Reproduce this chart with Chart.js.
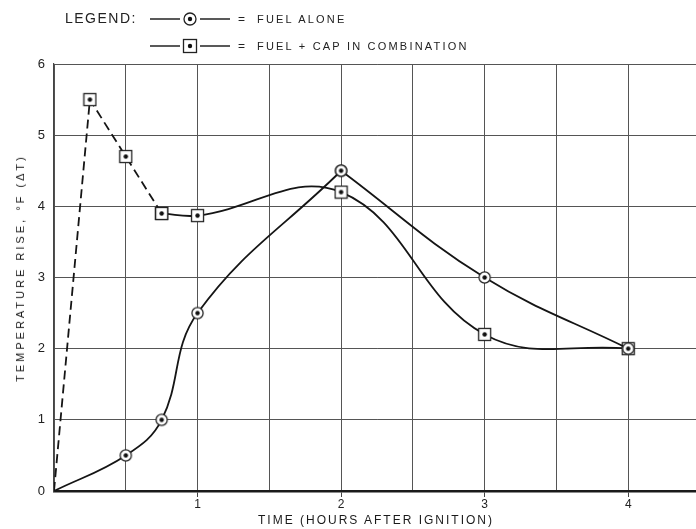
<!DOCTYPE html>
<html lang="en">
<head>
    <meta charset="UTF-8">
    <title>Temperature Rise - Fuel vs Fuel + Cap</title>
    <script src="https://cdn.jsdelivr.net/npm/chart.js"></script>
    <style>
        body {
            margin: 0;
            width: 696px;
            height: 529px;
            overflow: hidden;
            background: #fff;
            font-family: "Liberation Sans", Arial, sans-serif;
            color: #1a1a1a;
        }

        .wrap {
            position: absolute;
            left: 0;
            top: 0;
            width: 710px;
            height: 529px;
        }

        .legend {
            position: absolute;
            left: 0;
            top: 0;
        }

        .legend .row {
            position: absolute;
            white-space: nowrap;
            height: 16px;
            line-height: 16px;
        }

        .legend .head {
            position: absolute;
            left: 65px;
            top: 10px;
            font-size: 14px;
            letter-spacing: 1.5px;
            color: #222;
        }

        .legend svg {
            position: absolute;
            left: 150px;
            top: 0;
        }

        .legend .eq {
            position: absolute;
            left: 238px;
            font-size: 12px;
            color: #222;
        }

        .legend .txt {
            position: absolute;
            left: 257px;
            font-size: 11px;
            letter-spacing: 2.2px;
            color: #222;
        }

        .xtitle {
            position: absolute;
            left: 376px;
            top: 513px;
            transform: translateX(-50%);
            font-size: 12px;
            letter-spacing: 2px;
            white-space: nowrap;
            color: #1a1a1a;
        }

        .ytitle {
            position: absolute;
            left: 20px;
            top: 268px;
            transform: translate(-50%, -50%) rotate(-90deg);
            font-size: 11px;
            letter-spacing: 3px;
            white-space: nowrap;
            color: #1a1a1a;
        }
    </style>
</head>
<body>
    <div class="wrap">
        <canvas id="riseChart" width="710" height="529"></canvas>
    </div>

    <div class="legend">
        <div class="head">LEGEND:</div>
        <div class="row" style="top:11px; left:0; width:500px;">
            <svg width="82" height="16">
                <line x1="0" y1="8" x2="30" y2="8" stroke="#222" stroke-width="1.5"/>
                <line x1="50" y1="8" x2="80" y2="8" stroke="#222" stroke-width="1.5"/>
                <circle cx="40" cy="8" r="6" fill="#fff" stroke="#222" stroke-width="1.3"/>
                <circle cx="40" cy="8" r="2.2" fill="#111"/>
            </svg>
            <span class="eq">=</span>
            <span class="txt">FUEL ALONE</span>
        </div>
        <div class="row" style="top:38px; left:0; width:500px;">
            <svg width="82" height="16">
                <line x1="0" y1="8" x2="30" y2="8" stroke="#222" stroke-width="1.5"/>
                <line x1="50" y1="8" x2="80" y2="8" stroke="#222" stroke-width="1.5"/>
                <rect x="33.5" y="1.5" width="13" height="13" fill="#fff" stroke="#222" stroke-width="1.3"/>
                <circle cx="40" cy="8" r="2.2" fill="#111"/>
            </svg>
            <span class="eq">=</span>
            <span class="txt">FUEL + CAP IN COMBINATION</span>
        </div>
    </div>

    <div class="ytitle">TEMPERATURE RISE, °F (ΔT)</div>
    <div class="xtitle">TIME (HOURS AFTER IGNITION)</div>

    <script>
        // Fuel alone (circles)
        const fuelHours = [0, 0.5, 0.75, 1, 2, 3, 4];
        const fuelRise = [0, 0.5, 1.0, 2.5, 4.5, 3.0, 2.0];

        // Fuel + cap in combination (squares)
        const capHours = [0, 0.25, 0.5, 0.75, 1, 2, 3, 4];
        const capRise = [0, 5.5, 4.7, 3.9, 3.87, 4.2, 2.2, 2.0];

        const xLabels = ['1', '2', '3', '4'];
        const yLabels = ['0', '1', '2', '3', '4', '5', '6'];

        const INK = '#151515';

        // small canvas markers: ring / square with a dot in the middle
        function makeMarker(kind) {
            const c = document.createElement('canvas');
            c.width = 15;
            c.height = 15;
            const g = c.getContext('2d');
            g.fillStyle = '#fff';
            g.strokeStyle = '#222';
            g.lineWidth = 1.3;
            if (kind === 'circle') {
                g.beginPath();
                g.arc(7.5, 7.5, 5.6, 0, Math.PI * 2);
                g.fill();
                g.stroke();
            } else {
                g.fillRect(1.5, 1.5, 12, 12);
                g.strokeRect(1.5, 1.5, 12, 12);
            }
            g.beginPath();
            g.arc(7.5, 7.5, 2.2, 0, Math.PI * 2);
            g.fillStyle = '#111';
            g.fill();
            return c;
        }

        const ringMark = makeMarker('circle');
        const boxMark = makeMarker('square');

        function pts(xs, ys, from, to) {
            const out = [];
            for (let i = from; i <= to; i++) out.push({ x: xs[i], y: ys[i] });
            return out;
        }

        // no marker at the origin
        const hideOrigin = ctx => (ctx.raw && ctx.raw.x === 0) ? 0 : 6;

        function lineSet(data, marker, extra) {
            return Object.assign({
                data: data,
                borderColor: INK,
                borderWidth: 1.8,
                fill: false,
                tension: 0.4,
                pointStyle: marker,
                pointRadius: hideOrigin,
                pointHoverRadius: hideOrigin
            }, extra || {});
        }

        const peakIdx = fuelHours.indexOf(2);
        const dashEnd = capHours.indexOf(0.75);

        const datasets = [
            // fuel alone: rising branch and falling branch (sharp peak at 2 h)
            lineSet(pts(fuelHours, fuelRise, 0, peakIdx), ringMark),
            lineSet(pts(fuelHours, fuelRise, peakIdx, fuelHours.length - 1), ringMark),
            // fuel + cap: dashed straight start, then smooth curve
            lineSet(pts(capHours, capRise, 0, dashEnd), boxMark, { tension: 0, borderDash: [9, 5] }),
            lineSet(pts(capHours, capRise, dashEnd, capHours.length - 1), boxMark)
        ];

        new Chart(document.getElementById('riseChart'), {
            type: 'line',
            data: { datasets: datasets },
            options: {
                responsive: false,
                animation: false,
                devicePixelRatio: 1,
                layout: {
                    padding: { left: 0, top: 64, right: 10, bottom: 0 }
                },
                plugins: {
                    legend: { display: false },
                    tooltip: { enabled: false }
                },
                scales: {
                    x: {
                        type: 'linear',
                        min: 0,
                        max: 4.5,
                        afterFit: scale => { scale.height = 38; },
                        ticks: {
                            stepSize: 0.5,
                            autoSkip: false,
                            maxRotation: 0,
                            padding: 0,
                            color: '#222',
                            font: { family: 'Liberation Sans', size: 12 },
                            callback: value => {
                                const i = xLabels.indexOf(String(value));
                                return i >= 0 ? xLabels[i] : '';
                            }
                        },
                        grid: {
                            color: '#555',
                            lineWidth: 1,
                            tickLength: 6,
                            tickColor: ctx => (ctx.tick && Number.isInteger(ctx.tick.value) && ctx.tick.value > 0) ? '#444' : 'rgba(0,0,0,0)'
                        },
                        border: { color: '#1a1a1a', width: 2.5 }
                    },
                    y: {
                        min: 0,
                        max: 6,
                        afterFit: scale => { scale.width = 54; },
                        ticks: {
                            stepSize: 1,
                            padding: 9,
                            color: '#222',
                            font: { family: 'Liberation Sans', size: 13 },
                            callback: value => yLabels[value] !== undefined ? yLabels[value] : ''
                        },
                        grid: {
                            color: '#555',
                            lineWidth: 1,
                            drawTicks: false
                        },
                        border: { color: '#444', width: 1.2 }
                    }
                }
            }
        });
    </script>
</body>
</html>
